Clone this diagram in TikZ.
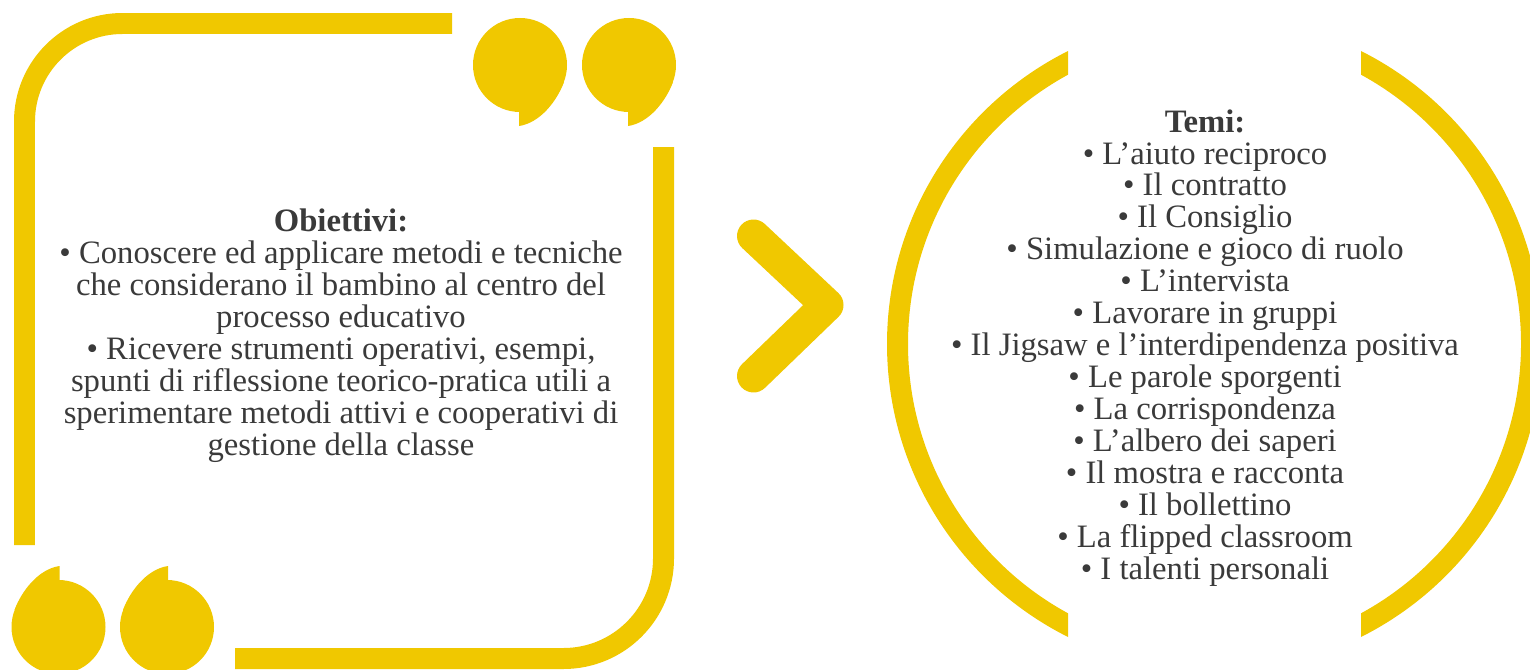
\documentclass[tikz,border=0pt]{standalone}
\usepackage{fontspec}
\setmainfont{Liberation Serif}
\usetikzlibrary{positioning}
\definecolor{giallo}{RGB}{240,200,0}
\definecolor{grigio}{RGB}{58,58,58}

\begin{document}
\begin{tikzpicture}[x=0.02cm,y=-0.02cm,
    barra/.style={giallo,line width=0.42cm},
    elenco/.style={text=grigio,align=center,inner sep=0pt,
        font=\fontsize{18.6}{18.2}\selectfont},
    virgolette/.pic={
        \fill[giallo] (0,0) circle (47);
        \fill[giallo] (-1,40) -- (-1,61) .. controls (20,58) and (37,36) .. (44,17) -- cycle;
    }]

    \useasboundingbox (0,0) rectangle (1530,669);

    % cornice a sinistra
    \draw[barra,rounded corners=1.96cm] (452,23.5) -- (24.5,23.5) -- (24.5,545);
    \draw[barra,rounded corners=2cm] (663.5,147) -- (663.5,658.5) -- (235,658.5);

    \pic at (520,65) {virgolette};
    \pic at (629,65) {virgolette};
    \pic[rotate=180] at (58.5,627) {virgolette};
    \pic[rotate=180] at (167,627) {virgolette};

    % freccia
    \draw[giallo,line width=0.66cm,line cap=round,line join=round]
        (753.5,236) -- (827,305) -- (753.5,376);

    % parentesi tonde
    \begin{scope}
        \clip (860,0) rectangle (1068,669) (1361,0) rectangle (1545,669);
        \draw[barra] (1214.5,344) circle (317);
    \end{scope}

    \node[elenco] (obiettivi) at (341,336) {\textbf{Obiettivi:}\\
        • Conoscere ed applicare metodi e tecniche\\
        che considerano il bambino al centro del\\
        processo educativo\\
        • Ricevere strumenti operativi, esempi,\\
        spunti di riflessione teorico-pratica utili a\\
        sperimentare metodi attivi e cooperativi di\\
        gestione della classe};

    \node[elenco] (temi) at (1205,348) {\textbf{Temi:}\\
        • L’aiuto reciproco\\
        • Il contratto\\
        • Il Consiglio\\
        • Simulazione e gioco di ruolo\\
        • L’intervista\\
        • Lavorare in gruppi\\
        • Il Jigsaw e l’interdipendenza positiva\\
        • Le parole sporgenti\\
        • La corrispondenza\\
        • L’albero dei saperi\\
        • Il mostra e racconta\\
        • Il bollettino\\
        • La flipped classroom\\
        • I talenti personali};
\end{tikzpicture}
\end{document}
